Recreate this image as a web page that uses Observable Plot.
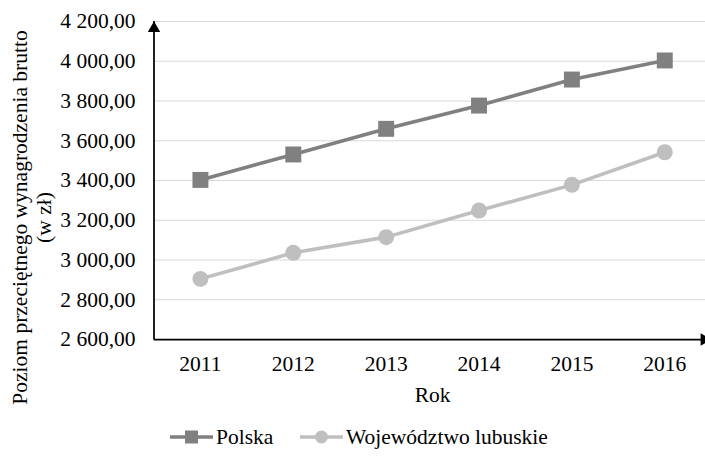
<!DOCTYPE html>
<html>
<head>
<meta charset="utf-8">
<script src="https://cdn.jsdelivr.net/npm/d3@7"></script>
<script src="https://cdn.jsdelivr.net/npm/@observablehq/plot@0.6"></script>
<style>
html, body { margin: 0; padding: 0; background: #fff; overflow: hidden; }
#wrap { position: relative; width: 705px; height: 460px; font-family: "Liberation Serif", "Times New Roman", serif; color: #000; }
#chart { position: absolute; left: 0; top: 0; }
.leg { position: absolute; top: 425px; height: 24px; display: flex; align-items: center; font-size: 21.5px; white-space: nowrap; }
.leg svg { display: block; margin-right: 3px; }
</style>
</head>
<body>
<div id="wrap">
  <div id="chart"></div>
  <div class="leg" id="leg0" style="left:170px"></div>
  <div class="leg" id="leg1" style="left:300px"></div>
</div>
<script>
const years = [2011, 2012, 2013, 2014, 2015, 2016];
const polska = [3403, 3531, 3660, 3777, 3908, 4004];
const lubuskie = [2905, 3036, 3115, 3249, 3378, 3542];
const seriesNames = ["Polska", "Województwo lubuskie"];
const seriesColors = ["#808080", "#bfbfbf"];
const yTicks = [2600, 2800, 3000, 3200, 3400, 3600, 3800, 4000, 4200];
const xLabel = "Rok";
const yLabel = "Poziom przeciętnego wynagrodzenia brutto\n(w zł)";

const rows0 = years.map((yr, i) => ({year: yr, value: polska[i]}));
const rows1 = years.map((yr, i) => ({year: yr, value: lubuskie[i]}));

const fmt = d3.formatLocale({decimal: ",", thousands: " ", grouping: [3]}).format(",.2f");
const xMin = d3.min(years) - 0.5, xMax = d3.max(years) + 0.5;
const yMin = d3.min(yTicks), yMax = d3.max(yTicks);
const FS = 21.5;

const chart = Plot.plot({
  width: 705, height: 410,
  marginLeft: 153.5, marginRight: -5.7, marginTop: 21, marginBottom: 71,
  style: {fontFamily: '"Liberation Serif", "Times New Roman", serif', fontSize: FS + "px", color: "#000", background: "transparent"},
  x: {type: "linear", domain: [xMin, xMax], ticks: years, tickFormat: d => String(d), tickSize: 0, tickPadding: 16.5, label: null},
  y: {domain: [yMin, yMax], ticks: yTicks, tickFormat: fmt, tickSize: 0, tickPadding: 18.5, label: null},
  marks: [
    Plot.ruleY(yTicks.slice(1), {stroke: "#d9d9d9", strokeWidth: 1.2}),
    Plot.ruleY([yMin], {stroke: "#000", strokeWidth: 1.75}),
    Plot.ruleX([xMin], {stroke: "#000", strokeWidth: 1.75}),
    Plot.dot([0], {x: () => xMin, y: () => yMax, symbol: "triangle", r: 4.6, fill: "#000", stroke: null, dy: 7}),
    Plot.dot([0], {x: () => xMax, y: () => yMin, symbol: "triangle", r: 4.6, fill: "#000", stroke: null, rotate: 90, dx: -7}),
    Plot.line(rows0, {x: "year", y: "value", stroke: seriesColors[0], strokeWidth: 3.6}),
    Plot.line(rows1, {x: "year", y: "value", stroke: seriesColors[1], strokeWidth: 3.6}),
    Plot.dot(rows0, {x: "year", y: "value", symbol: "square", r: 9, fill: seriesColors[0], stroke: null}),
    Plot.dot(rows1, {x: "year", y: "value", symbol: "circle", r: 8, fill: seriesColors[1], stroke: null}),
    Plot.text([xLabel], {text: d => d, frameAnchor: "bottom", dy: 62, fontSize: FS, fill: "#000"}),
    Plot.text([yLabel], {text: d => d, frameAnchor: "left", textAnchor: "middle", rotate: -90, dx: -122.5, dy: 37, lineHeight: 1.12, fontSize: FS, fill: "#000"})
  ]
});
document.getElementById("chart").appendChild(chart);

// Legend
function legendIcon(color, shape) {
  const w = 43, h = 24;
  let m = shape === "square"
    ? `<rect x="${w/2-6.5}" y="${h/2-6.5}" width="13" height="13" fill="${color}"/>`
    : `<circle cx="${w/2}" cy="${h/2}" r="6.5" fill="${color}"/>`;
  return `<svg width="${w}" height="${h}"><line x1="0" x2="${w}" y1="${h/2}" y2="${h/2}" stroke="${color}" stroke-width="3.6"/>${m}</svg>`;
}
document.getElementById("leg0").innerHTML = legendIcon(seriesColors[0], "square") + `<span>${seriesNames[0]}</span>`;
document.getElementById("leg1").innerHTML = legendIcon(seriesColors[1], "circle") + `<span>${seriesNames[1]}</span>`;
</script>
</body>
</html>
